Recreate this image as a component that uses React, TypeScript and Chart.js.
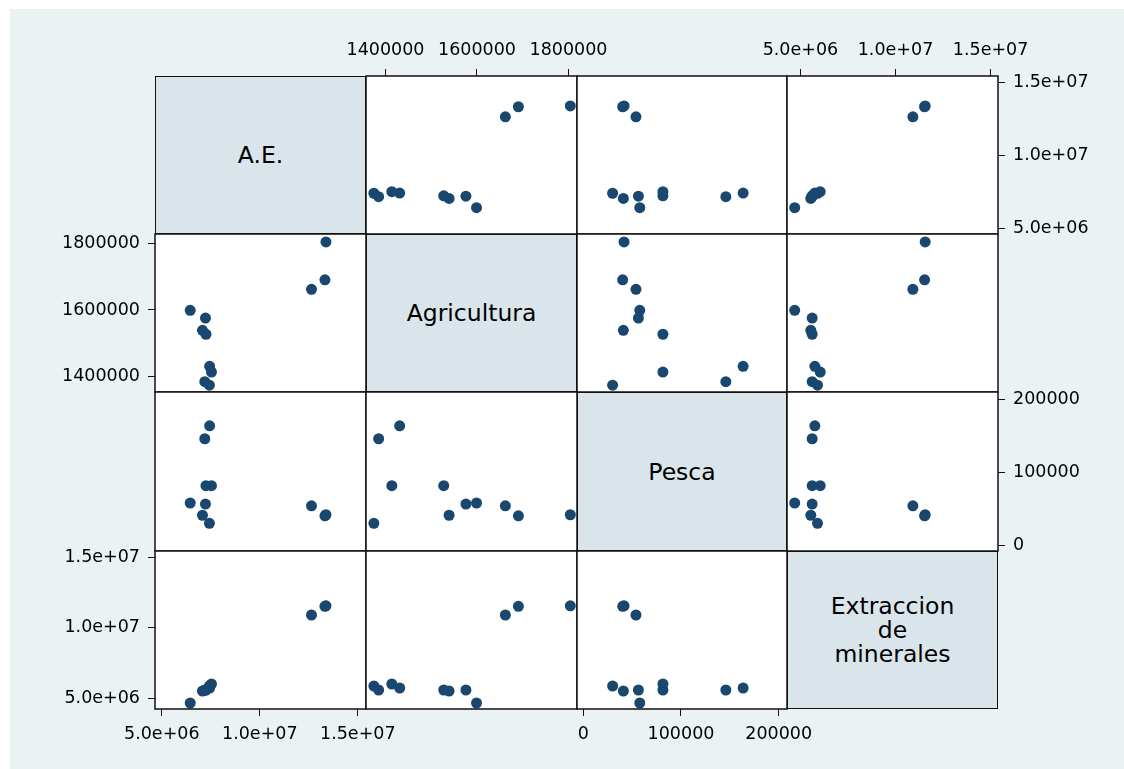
import React, { useEffect, useRef } from "react";
import { Chart, registerables } from "chart.js";

Chart.register(...registerables);

// ---- data (11 observations) ----
const ae = [13375000, 13323000, 12637000, 6450000, 7227000, 7075000, 7253000, 7440000, 7534000, 7193000, 7430000];
const agricultura = [1804000, 1690500, 1662000, 1599000, 1575800, 1539000, 1527300, 1431000, 1413800, 1385000, 1374600];
const pesca = [41700, 40300, 53900, 57800, 56400, 41000, 81500, 163600, 81500, 145900, 30000];
const extraccion = [11560000, 11530000, 10914000, 4700000, 5618000, 5547000, 5618000, 5759000, 6041000, 5618000, 5900000];

const variables = [ae, agricultura, pesca, extraccion];
const diagonalLabels = [["A.E."], ["Agricultura"], ["Pesca"], ["Extraccion", "de", "minerales"]];

// ---- ticks ----
const aeTicks = [5000000, 10000000, 15000000];
const aeTickLabels = ["5.0e+06", "1.0e+07", "1.5e+07"];
const agTicks = [1400000, 1600000, 1800000];
const agTickLabels = ["1400000", "1600000", "1800000"];
const peTicks = [0, 100000, 200000];
const peTickLabels = ["0", "100000", "200000"];
const exTicks = [5000000, 10000000, 15000000];
const exTickLabels = ["5.0e+06", "1.0e+07", "1.5e+07"];

const tickValues = [aeTicks, agTicks, peTicks, exTicks];
const tickLabels = [aeTickLabels, agTickLabels, peTickLabels, exTickLabels];

// ---- axis ranges (columns use x, rows use y) ----
const colMin = [4653000, 1357400, -6450, 4295000];
const colMax = [15418000, 1818600, 208500, 15390000];
const rowMin = [4653000, 1354100, -8000, 4276000];
const rowMax = [15418000, 1827900, 210000, 15434000];

// ---- layout ----
const X = [155, 366, 577, 787, 998];
const Y = [76, 234, 392, 551, 709];
const MARKER = "#1a476f";
const FONT = "'DejaVu Sans', 'Liberation Sans', sans-serif";

const framePlugin = {
  id: "cellFrame",
  beforeDatasetsDraw(chart: any) {
    const { ctx, chartArea: a } = chart;
    ctx.save();
    ctx.fillStyle = "#ffffff";
    ctx.fillRect(a.left, a.top, a.right - a.left, a.bottom - a.top);
    ctx.restore();
  },
  afterDatasetsDraw(chart: any) {
    const { ctx, chartArea: a } = chart;
    ctx.save();
    ctx.strokeStyle = "#111111";
    ctx.lineWidth = 1.5;
    ctx.strokeRect(a.left, a.top, a.right - a.left, a.bottom - a.top);
    ctx.restore();
  },
};

function axisConfig(v: number, isX: boolean, position: string, display: boolean, size: number) {
  const vals = tickValues[v];
  const labs = tickLabels[v];
  return {
    type: "linear",
    position,
    display,
    min: isX ? colMin[v] : rowMin[v],
    max: isX ? colMax[v] : rowMax[v],
    grid: {
      display: true,
      drawOnChartArea: false,
      drawTicks: true,
      tickLength: 7,
      color: "#111111",
      lineWidth: 1,
    },
    border: { display: false },
    ticks: {
      font: { family: FONT, size: 17.5 },
      color: "#000000",
      padding: 8,
      maxRotation: 0,
      autoSkip: false,
      callback: (val: number) => {
        const i = vals.indexOf(val);
        return i >= 0 ? labs[i] : "";
      },
    },
    afterBuildTicks: (scale: any) => {
      scale.ticks = vals.map((value) => ({ value }));
    },
    afterFit: (scale: any) => {
      if (!display) return;
      if (isX) scale.height = size;
      else scale.width = size;
    },
  };
}

function ScatterCell({ r, c }: { r: number; c: number }) {
  const ref = useRef<HTMLCanvasElement | null>(null);
  const hasTop = r === 0 && c % 2 === 1;
  const hasBottom = r === 3 && c % 2 === 0;
  const hasLeft = c === 0 && r % 2 === 1;
  const hasRight = c === 3 && r % 2 === 0;
  const padL = hasLeft ? 150 : 50;
  const padR = hasRight ? 120 : 50;
  const padT = hasTop ? 70 : 20;
  const padB = hasBottom ? 60 : 20;
  const w = X[c + 1] - X[c] + padL + padR;
  const h = Y[r + 1] - Y[r] + padT + padB;

  useEffect(() => {
    if (!ref.current) return;
    const xs = variables[c];
    const ys = variables[r];
    const points = xs.map((x, i) => ({ x, y: ys[i] }));
    const chart = new Chart(ref.current, {
      type: "scatter",
      data: {
        datasets: [
          {
            data: points,
            backgroundColor: MARKER,
            borderColor: MARKER,
            borderWidth: 0,
            pointRadius: 5.5,
            pointHoverRadius: 5.5,
          },
        ],
      },
      options: {
        animation: false,
        responsive: false,
        maintainAspectRatio: false,
        devicePixelRatio: 1,
        events: [],
        layout: {
          padding: {
            left: hasLeft ? 0 : padL,
            right: hasRight ? 0 : padR,
            top: hasTop ? 0 : padT,
            bottom: hasBottom ? 0 : padB,
          },
        },
        plugins: { legend: { display: false }, tooltip: { enabled: false } },
        scales: {
          x: axisConfig(c, true, hasTop ? "top" : "bottom", hasTop || hasBottom, hasTop ? padT : padB),
          y: axisConfig(r, false, hasLeft ? "left" : "right", hasLeft || hasRight, hasLeft ? padL : padR),
        },
      } as any,
      plugins: [framePlugin],
    });
    return () => chart.destroy();
  }, []);

  return (
    <canvas
      ref={ref}
      width={w}
      height={h}
      style={{ position: "absolute", left: X[c] - padL, top: Y[r] - padT, width: w, height: h }}
    />
  );
}

function DiagonalCell({ i }: { i: number }) {
  return (
    <div
      style={{
        position: "absolute",
        left: X[i],
        top: Y[i],
        width: X[i + 1] - X[i],
        height: Y[i + 1] - Y[i],
        boxSizing: "border-box",
        border: "1.5px solid #111",
        background: "#d9e5eb",
        display: "flex",
        flexDirection: "column",
        alignItems: "center",
        justifyContent: "center",
        fontFamily: FONT,
        fontSize: 23.5,
        lineHeight: "24px",
        color: "#000",
        textAlign: "center",
      }}
    >
      {diagonalLabels[i].map((line, k) => (
        <div key={k}>{line}</div>
      ))}
    </div>
  );
}

export default function App() {
  const cells: React.ReactNode[] = [];
  for (let r = 0; r < 4; r++) {
    for (let c = 0; c < 4; c++) {
      if (r === c) cells.push(<DiagonalCell key={`d${r}`} i={r} />);
      else cells.push(<ScatterCell key={`s${r}${c}`} r={r} c={c} />);
    }
  }
  return (
    <div style={{ position: "absolute", left: 0, top: 0, width: 1124, height: 769, overflow: "hidden", background: "#ffffff" }}>
      <div style={{ position: "absolute", left: 10, top: 9, width: 1114, height: 760, background: "#eaf2f3" }} />
      {cells}
    </div>
  );
}
